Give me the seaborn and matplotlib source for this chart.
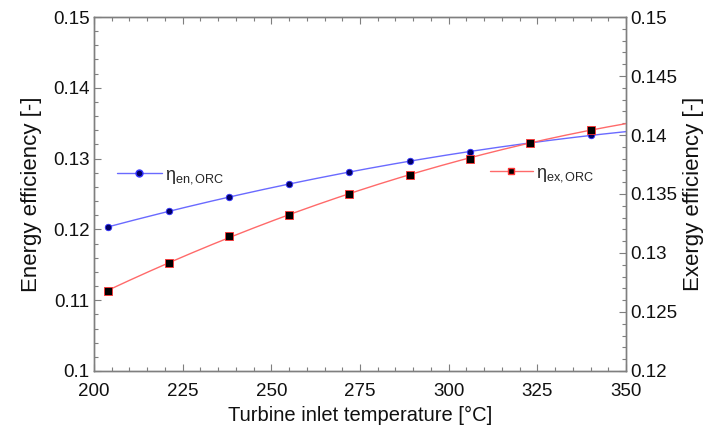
import numpy as np
import pandas as pd
import matplotlib
matplotlib.use("Agg")
import matplotlib.pyplot as plt
from matplotlib.ticker import MultipleLocator
from matplotlib.lines import Line2D
import seaborn as sns

# Data
temperature = [204, 221, 238, 255, 272, 289, 306, 323, 340]
eta_en = [0.1203, 0.1226, 0.1246, 0.1264, 0.1281, 0.1296, 0.1310, 0.1322, 0.1333]
eta_ex = [0.12678, 0.12918, 0.1314, 0.13326, 0.1350, 0.13662, 0.1380, 0.13932, 0.14046]
x_ticks = [200, 225, 250, 275, 300, 325, 350]
left_ticks = [0.10, 0.11, 0.12, 0.13, 0.14, 0.15]
right_ticks = [0.12, 0.125, 0.13, 0.135, 0.14, 0.145, 0.15]
left_labels = ["0.1", "0.11", "0.12", "0.13", "0.14", "0.15"]
right_labels = ["0.12", "0.125", "0.13", "0.135", "0.14", "0.145", "0.15"]

sns.set_theme(style="ticks")
plt.rcParams["font.family"] = ["Liberation Sans", "DejaVu Sans"]
plt.rcParams["mathtext.fontset"] = "custom"
plt.rcParams["mathtext.rm"] = "Liberation Sans"
plt.rcParams["mathtext.it"] = "Liberation Sans"

df = pd.DataFrame({"T": temperature, "en": eta_en, "ex": eta_ex})

# smooth curves through the data (quadratic fit) extended to axis end
t_fine = np.linspace(204, 350, 200)
en_fit = np.polyval(np.polyfit(temperature, eta_en, 2), t_fine)
ex_fit = np.polyval(np.polyfit(temperature, eta_ex, 2), t_fine)
df_fine = pd.DataFrame({"T": t_fine, "en": en_fit, "ex": ex_fit})

fig = plt.figure(figsize=(7.08, 4.34), dpi=100)
ax = fig.add_axes([0.1328, 0.1452, 0.7514, 0.8156])
ax2 = ax.twinx()

blue_line = "#6a6aff"
red_line = "#ff6a6a"
spine_c = "#7f7f7f"

sns.lineplot(data=df_fine, x="T", y="en", ax=ax, color=blue_line, linewidth=1.0)
sns.scatterplot(data=df, x="T", y="en", ax=ax, color="#000066", edgecolor="#3333ff",
                s=22, linewidth=0.6, marker="o", zorder=5)
sns.lineplot(data=df_fine, x="T", y="ex", ax=ax2, color=red_line, linewidth=1.0)
sns.scatterplot(data=df, x="T", y="ex", ax=ax2, color="black", edgecolor="#ff3333",
                s=28, linewidth=0.6, marker="s", zorder=5)

ax.set_xlim(200, 350)
ax.set_ylim(0.10, 0.15)
ax2.set_ylim(0.12, 0.15)

ax.set_xticks(x_ticks)
ax.set_yticks(left_ticks)
ax2.set_yticks(right_ticks)
ax.xaxis.set_minor_locator(MultipleLocator(5))
ax.yaxis.set_minor_locator(MultipleLocator(0.002))
ax2.yaxis.set_minor_locator(MultipleLocator(0.001))
ax.set_yticklabels(left_labels)
ax2.set_yticklabels(right_labels)

for a in (ax, ax2):
    for s in a.spines.values():
        s.set_color(spine_c)
        s.set_linewidth(1.0)
    a.tick_params(which="both", direction="in", color=spine_c, labelsize=13.5,
                  labelcolor="#111111", pad=3)
    a.tick_params(which="major", length=5, width=0.8)
    a.tick_params(which="minor", length=3, width=0.8)
ax.tick_params(which="both", top=True, right=False)
ax.tick_params(axis="x", pad=9)
ax2.tick_params(which="both", left=False, right=True)

ax.set_xlabel("Turbine inlet temperature [°C]", fontsize=14.5, color="#111111", labelpad=4)
ax.set_ylabel("Energy efficiency [-]", fontsize=16, color="#111111", labelpad=8)
ax2.set_ylabel("Exergy efficiency [-]", fontsize=16, color="#111111", labelpad=4)

h1 = Line2D([], [], color=blue_line, lw=1.0, marker="o", markersize=5,
            markerfacecolor="#000066", markeredgecolor="#3333ff")
h2 = Line2D([], [], color=red_line, lw=1.0, marker="s", markersize=5,
            markerfacecolor="black", markeredgecolor="#ff3333")
leg1 = ax.legend([h1], [r"$\eta_{\mathrm{en,ORC}}$"], loc="center left",
                 bbox_to_anchor=(0.043, 0.551), frameon=False, handlelength=2.5,
                 fontsize=13, handletextpad=0.15, borderaxespad=0, borderpad=0)
leg2 = ax2.legend([h2], [r"$\eta_{\mathrm{ex,ORC}}$"], loc="center left",
                  bbox_to_anchor=(0.744, 0.556), frameon=False, handlelength=2.4,
                  fontsize=13, handletextpad=0.15, borderaxespad=0, borderpad=0)

fig.savefig("out.png", dpi=100)
